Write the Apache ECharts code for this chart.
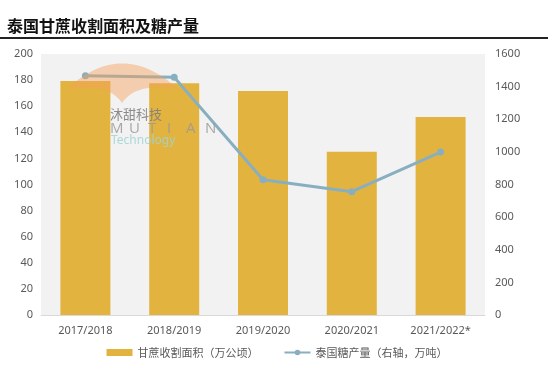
<!DOCTYPE html>
<html>
<head>
<meta charset="utf-8">
<script src="https://cdn.jsdelivr.net/npm/echarts@6/dist/echarts.min.js"></script>
<style>
html,body{margin:0;padding:0;background:#fff;}
#c{width:554px;height:375px;}
</style>
</head>
<body>
<div id="c"></div>
<script>
const categories = ['2017/2018', '2018/2019', '2019/2020', '2020/2021', '2021/2022*'];
const harvestArea = [179.3, 177.5, 171.6, 125.1, 151.7];
const sugarOutput = [1467, 1457, 829, 756, 999];
const leftTicks = [0, 200, 20];
const rightTicks = [0, 1600, 200];
const seriesNames = ['甘蔗收割面积（万公顷）', '泰国糖产量（右轴，万吨）'];
const titleText = '泰国甘蔗收割面积及糖产量';

// watermark outline (decoration only)
function quad(p0, c, p1, n) {
  const pts = [];
  for (let i = 0; i <= n; i++) {
    const t = i / n;
    pts.push([(1-t)*(1-t)*p0[0] + 2*(1-t)*t*c[0] + t*t*p1[0],
              (1-t)*(1-t)*p0[1] + 2*(1-t)*t*c[1] + t*t*p1[1]]);
  }
  return pts;
}
const wmPts = [].concat(
  quad([67, 89], [122, 38], [178, 89], 30),
  quad([178, 89], [136, 82], [122, 103], 15).slice(1),
  quad([122, 103], [108, 82], [67, 89], 15).slice(1)
);
const wmLetters = 'MUTIAN'.split('').map(function (ch, i) {
  return {type: 'text', z: 100, x: 110 + i * 19, y: 121, silent: true,
    style: {text: ch, fontFamily: "'Open Sans', sans-serif", fontSize: 15, fill: '#9a9a9a', opacity: 0.85}};
});

const chart = echarts.init(document.getElementById('c'), null, {renderer: 'canvas'});
const numFont = "'Noto Sans', sans-serif";
const cjkFont = "'Noto Sans CJK SC', sans-serif";
chart.setOption({
  animation: false,
  backgroundColor: '#ffffff',
  title: {
    text: titleText,
    left: 2, top: 13,
    textStyle: {fontFamily: cjkFont, fontSize: 16, fontWeight: 'bold', color: '#111'}
  },
  grid: {
    left: 41, right: 69, top: 54, bottom: 60,
    show: true, backgroundColor: '#f2f2f2', borderWidth: 0
  },
  legend: {
    bottom: 12, left: 'center',
    itemGap: 25,
    textStyle: {fontFamily: cjkFont, fontSize: 11, color: '#595959'},
    data: [
      {name: seriesNames[0], icon: 'rect', itemStyle: {color: '#E3B33F'}},
      {name: seriesNames[1]}
    ],
    itemWidth: 26, itemHeight: 7
  },
  xAxis: {
    type: 'category',
    data: categories,
    axisLine: {show: true, lineStyle: {color: '#d9d9d9', width: 1}},
    axisTick: {show: false},
    axisLabel: {fontFamily: numFont, fontSize: 11, color: '#595959', margin: 10}
  },
  yAxis: [
    {
      type: 'value', min: leftTicks[0], max: leftTicks[1], interval: leftTicks[2],
      splitLine: {show: false}, axisLine: {show: false}, axisTick: {show: false},
      axisLabel: {fontFamily: numFont, fontSize: 11, color: '#595959', margin: 8}
    },
    {
      type: 'value', min: rightTicks[0], max: rightTicks[1], interval: rightTicks[2],
      splitLine: {show: false}, axisLine: {show: false}, axisTick: {show: false},
      axisLabel: {fontFamily: numFont, fontSize: 11, color: '#595959', margin: 10,
        formatter: function (v) { return String(v); }}
    }
  ],
  series: [
    {
      name: seriesNames[0], type: 'bar', yAxisIndex: 0,
      data: harvestArea, barWidth: 50,
      itemStyle: {color: '#E3B33F'}
    },
    {
      name: seriesNames[1], type: 'line', yAxisIndex: 1,
      data: sugarOutput,
      symbol: 'circle', symbolSize: 7,
      lineStyle: {color: '#88AFC0', width: 3},
      itemStyle: {color: '#88AFC0'}
    }
  ],
  graphic: [
    {type: 'line', shape: {x1: 0, y1: 38, x2: 548, y2: 38}, style: {stroke: '#222', lineWidth: 2}, z: 10},
    {type: 'polygon', z: 100, silent: true,
     shape: {points: wmPts},
     style: {fill: '#f5a05a', opacity: 0.45}},
    {type: 'text', z: 100, x: 110, y: 108, silent: true,
     style: {text: '沐甜科技', fontFamily: cjkFont, fontSize: 13, fill: '#808080', opacity: 0.9}},
    {type: 'text', z: 100, x: 111, y: 135, silent: true,
     style: {text: 'Technology', fontFamily: numFont, fontSize: 12, fill: '#9fd3d3', opacity: 0.85}}
  ].concat(wmLetters)
});
</script>
</body>
</html>
